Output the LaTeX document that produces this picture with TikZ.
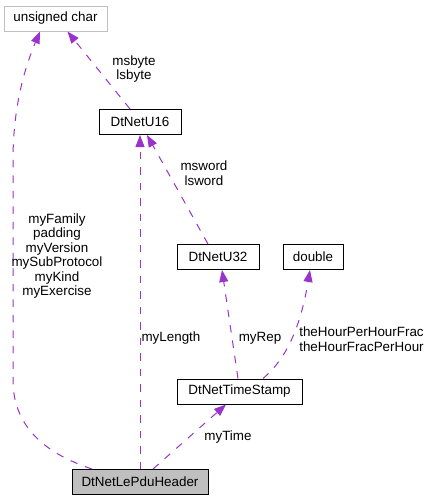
\documentclass[tikz,border=0pt]{standalone}
\usepackage{fontspec}
\setmainfont{Liberation Sans}
\usetikzlibrary{arrows.meta}
\definecolor{edgepurple}{HTML}{9A32CD}
\definecolor{boxgray}{HTML}{BFBFBF}
\tikzset{
  cls/.style={draw=black, line width=1pt, minimum height=25pt, inner sep=0pt, font=\fontsize{13.4}{14.5}\selectfont, fill=white},
  ext/.style={cls, draw=boxgray},
  cur/.style={cls, fill=boxgray},
  rel/.style={draw=edgepurple, line width=1pt, dash pattern=on 7.5pt off 8pt, -{Triangle[length=12pt,width=9pt]}, fill=none},
  lbl/.style={align=center, inner sep=0pt, font=\fontsize{13.4}{14.5}\selectfont}
}
\begin{document}
\begin{tikzpicture}[x=1pt,y=-1pt]
\useasboundingbox (0,0) rectangle (429,501);
\node[ext, minimum width=103pt] (uchar) at (55.5,18.5) {unsigned char};
\node[cls, minimum width=82pt] (u16) at (140,122) {DtNetU16};
\node[cls, minimum width=82pt] (u32) at (218,257) {DtNetU32};
\node[cls, minimum width=60pt] (dbl) at (313,257) {double};
\node[cls, minimum width=125pt] (ts) at (239.5,391.5) {DtNetTimeStamp};
\node[cur, minimum width=136pt] (pdu) at (140,482) {DtNetLePduHeader};

\draw[rel] ([xshift=-48pt]pdu.north) .. controls (50,455) and (13,430) .. (13,380) -- (13,160) .. controls (13,100) and (28,60) .. ([xshift=-15.5pt]uchar.south);
\draw[rel] (pdu.north) -- (u16.south);
\draw[rel] ([xshift=13pt]pdu.north) -- ([xshift=-13.5pt]ts.south);
\draw[rel] ([xshift=-1.5pt]ts.north) -- ([xshift=4pt]u32.south);
\draw[rel] ([xshift=23.5pt]ts.north) .. controls (285,360) and (300,330) .. ([xshift=-3pt]dbl.south);
\draw[rel] ([xshift=-10pt]u32.north) -- ([xshift=7pt]u16.south);
\draw[rel] ([xshift=-10pt]u16.north) -- ([xshift=12pt]uchar.south);

\node[lbl] (l1) at (57,256) {myFamily\\padding\\myVersion\\mySubProtocol\\myKind\\myExercise};
\node[lbl] (l2) at (171,338) {myLength};
\node[lbl] (l3) at (228,437) {myTime};
\node[lbl] (l4) at (260,338) {myRep};
\node[lbl] (l5) at (361.5,339) {theHourPerHourFrac\\theHourFracPerHour};
\node[lbl] (l6) at (204,173) {msword\\lsword};
\node[lbl] (l7) at (134,69) {msbyte\\lsbyte};
\end{tikzpicture}
\end{document}
